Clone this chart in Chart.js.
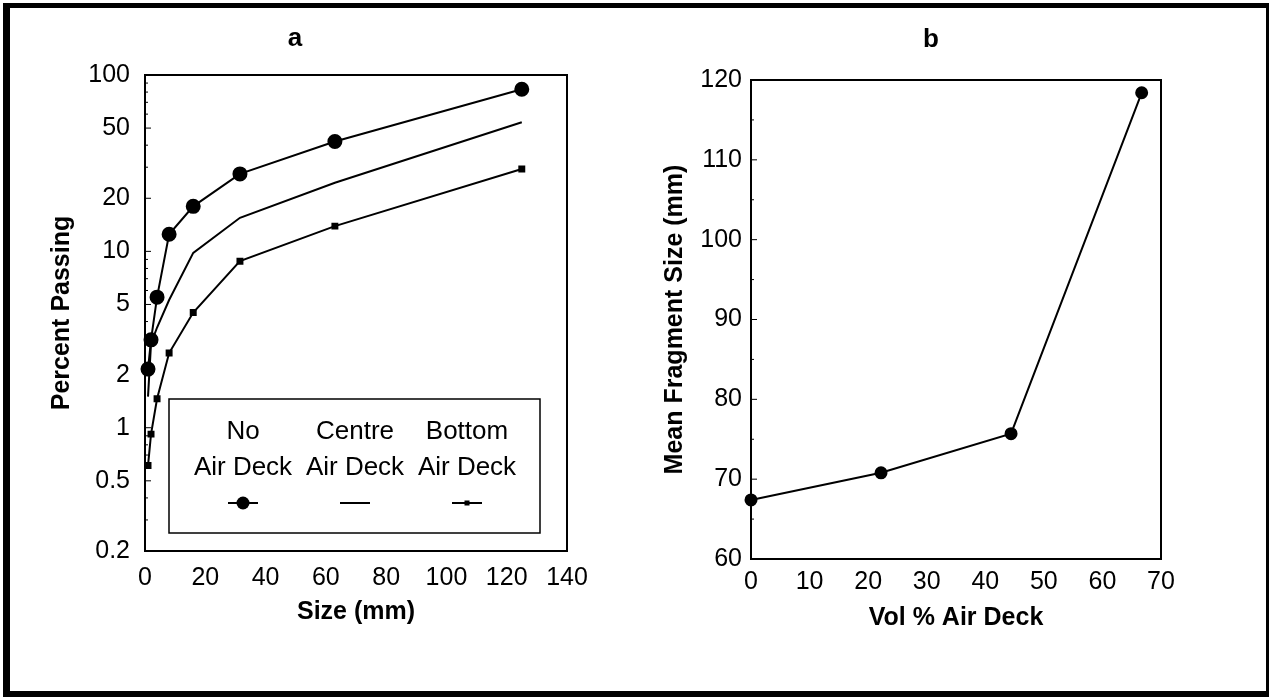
<!DOCTYPE html>
<html>
<head>
<meta charset="utf-8">
<script src="https://cdn.jsdelivr.net/npm/chart.js@4.4.1/dist/chart.umd.min.js"></script>
<style>
  body { margin: 0; background: #fff; width: 1269px; height: 697px; overflow: hidden; position: relative; }
  #frame { position: absolute; left: 3px; top: 3px; right: 0; bottom: 0; border-style: solid; border-color: #000; border-width: 5px 3px 6px 7px; }
  #chartA { position: absolute; left: 0; top: 10px; }
  #chartB { position: absolute; left: 660px; top: 10px; }
</style>
</head>
<body>
<div id="frame"></div>
<canvas id="chartA" width="590" height="630"></canvas>
<canvas id="chartB" width="542" height="640"></canvas>
<script>
// panel a - size distribution
const sizeMm = [1, 2, 4, 8, 16, 31.5, 63, 125];
const noAirDeck = [2.15, 3.15, 5.5, 12.5, 18, 27.5, 42, 83];
const centreAirDeck = [1.5, 3.0, 3.7, 5.3, 9.8, 15.5, 24.5, 54];
const bottomAirDeck = [0.61, 0.92, 1.46, 2.65, 4.5, 8.8, 13.9, 29.3];
const passingTicks = [0.2, 0.5, 1, 2, 5, 10, 20, 50, 100];
const sizeTicks = [0, 20, 40, 60, 80, 100, 120, 140];

// panel b - mean fragment size
const volAirDeck = [0, 22.2, 44.4, 66.7];
const meanFragment = [67.4, 70.8, 75.7, 118.4];
const fragTicks = [60, 70, 80, 90, 100, 110, 120];
const volTicks = [0, 10, 20, 30, 40, 50, 60, 70];

const FONT = "'Liberation Sans', Arial, Helvetica, sans-serif";
const tickFont = { family: FONT, size: 25 };
const titleFont = { family: FONT, size: 25, weight: 'bold' };
const panelFont = { family: FONT, size: 26, weight: 'bold' };

function toPoints(xs, ys) {
    return xs.map((x, i) => ({ x: x, y: ys[i] }));
}

function fixTicks(list) {
    return function (scale) {
        scale.ticks = list.map(v => ({ value: v }));
    };
}

// box round the plot area plus small inward ticks
const plotFrame = {
    id: 'plotFrame',
    afterDraw(chart, args, opts) {
        const { ctx, chartArea: a } = chart;
        ctx.save();
        ctx.strokeStyle = '#000';
        ctx.lineWidth = 2;
        ctx.strokeRect(a.left, a.top, a.right - a.left, a.bottom - a.top);
        ctx.lineWidth = 1;
        const y = chart.scales.y;
        (opts.yTicks || []).forEach(t => {
            const py = y.getPixelForValue(t.v);
            ctx.beginPath();
            ctx.moveTo(a.left, py);
            ctx.lineTo(a.left + t.len, py);
            ctx.stroke();
        });
        ctx.restore();
    }
};

// three column legend drawn inside panel a
const deckLegend = {
    id: 'deckLegend',
    afterDraw(chart) {
        if (chart.canvas.id !== 'chartA') return;
        const { ctx, chartArea: a } = chart;
        const left = a.left + 24, right = a.right - 27;
        const top = a.top + 324, bottom = a.bottom - 18;
        ctx.save();
        ctx.strokeStyle = '#000';
        ctx.lineWidth = 1.5;
        ctx.strokeRect(left, top, right - left, bottom - top);
        ctx.fillStyle = '#000';
        ctx.font = '26px ' + FONT;
        ctx.textAlign = 'center';
        ctx.textBaseline = 'middle';
        const cols = [a.left + 98, a.left + 210, a.left + 322];
        chart.data.datasets.forEach((ds, i) => {
            const words = ds.label.split(' ');
            const cx = cols[i];
            ctx.fillText(words[0], cx, top + 33);
            ctx.fillText(words.slice(1).join(' '), cx, top + 69);
            const my = top + 104;
            ctx.lineWidth = 2;
            ctx.beginPath();
            ctx.moveTo(cx - 15, my);
            ctx.lineTo(cx + 15, my);
            ctx.stroke();
            if (ds.pointRadius > 0) {
                if (ds.pointStyle === 'rect') {
                    ctx.fillRect(cx - 2.5, my - 2.5, 5, 5);
                } else {
                    ctx.beginPath();
                    ctx.arc(cx, my, ds.pointRadius, 0, Math.PI * 2);
                    ctx.fill();
                }
            }
        });
        ctx.restore();
    }
};

const minorLog = [];
[0.1, 1, 10].forEach(d => {
    for (let k = 1; k <= 9; k++) {
        const v = +(k * d).toPrecision(3);
        if (v >= 0.2 && v <= 100) minorLog.push({ v: v, len: passingTicks.includes(v) ? 6 : 3 });
    }
});
minorLog.push({ v: 100, len: 6 });

new Chart(document.getElementById('chartA'), {
    type: 'line',
    data: {
        datasets: [
            { label: 'No Air Deck', data: toPoints(sizeMm, noAirDeck), borderColor: '#000', backgroundColor: '#000',
              borderWidth: 2, pointRadius: 6.5, pointStyle: 'circle', tension: 0, clip: false },
            { label: 'Centre Air Deck', data: toPoints(sizeMm, centreAirDeck), borderColor: '#000', backgroundColor: '#000',
              borderWidth: 2, pointRadius: 0, tension: 0, clip: false },
            { label: 'Bottom Air Deck', data: toPoints(sizeMm, bottomAirDeck), borderColor: '#000', backgroundColor: '#000',
              borderWidth: 2, pointRadius: 3.5, pointStyle: 'rect', tension: 0, clip: false }
        ]
    },
    options: {
        responsive: false,
        animation: false,
        events: [],
        plugins: {
            legend: { display: false },
            tooltip: { enabled: false },
            title: { display: true, text: 'a', color: '#000', font: panelFont, padding: { top: 13.4, bottom: 20.4 } },
            plotFrame: { yTicks: minorLog }
        },
        scales: {
            x: {
                type: 'linear', min: 0, max: 140,
                afterBuildTicks: fixTicks(sizeTicks),
                afterFit: s => { s.height = 89; s.paddingRight = 23; },
                grid: { display: false, drawTicks: false },
                border: { display: false },
                ticks: { color: '#000', font: tickFont, padding: 12, maxRotation: 0, autoSkip: false },
                title: { display: true, text: 'Size (mm)', color: '#000', font: titleFont, padding: { bottom: 13 } }
            },
            y: {
                type: 'logarithmic', min: 0.2, max: 100,
                afterBuildTicks: fixTicks(passingTicks),
                afterFit: s => { s.width = 145; },
                grid: { display: false, drawTicks: false },
                border: { display: false },
                ticks: { color: '#000', font: tickFont, padding: 15, autoSkip: false, callback: v => String(v) },
                title: { display: true, text: 'Percent Passing', color: '#000', font: titleFont, padding: { top: 47 } }
            }
        }
    },
    plugins: [plotFrame, deckLegend]
});

const minorLin = [];
for (let v = 60; v <= 120; v += 5) minorLin.push({ v: v, len: v % 10 === 0 ? 6 : 3 });

new Chart(document.getElementById('chartB'), {
    type: 'line',
    data: {
        datasets: [
            { label: 'Mean Fragment Size', data: toPoints(volAirDeck, meanFragment), borderColor: '#000', backgroundColor: '#000',
              borderWidth: 2, pointRadius: 5.5, pointStyle: 'circle', tension: 0, clip: false }
        ]
    },
    options: {
        responsive: false,
        animation: false,
        events: [],
        plugins: {
            legend: { display: false },
            tooltip: { enabled: false },
            title: { display: true, text: 'b', color: '#000', font: panelFont, padding: { top: 14.4, bottom: 24.4 } },
            plotFrame: { yTicks: minorLin }
        },
        scales: {
            x: {
                type: 'linear', min: 0, max: 70,
                afterBuildTicks: fixTicks(volTicks),
                afterFit: s => { s.height = 91; s.paddingRight = 41; },
                grid: { display: false, drawTicks: false },
                border: { display: false },
                ticks: { color: '#000', font: tickFont, padding: 8, maxRotation: 0, autoSkip: false },
                title: { display: true, text: 'Vol % Air Deck', color: '#000', font: titleFont, padding: { bottom: 17 } }
            },
            y: {
                type: 'linear', min: 60, max: 120,
                afterBuildTicks: fixTicks(fragTicks),
                afterFit: s => { s.width = 91; },
                grid: { display: false, drawTicks: false },
                border: { display: false },
                ticks: { color: '#000', font: tickFont, padding: 9, autoSkip: false },
                title: { display: true, text: 'Mean Fragment Size (mm)', color: '#000', font: titleFont, padding: { top: 0 } }
            }
        }
    },
    plugins: [plotFrame]
});
</script>
</body>
</html>
